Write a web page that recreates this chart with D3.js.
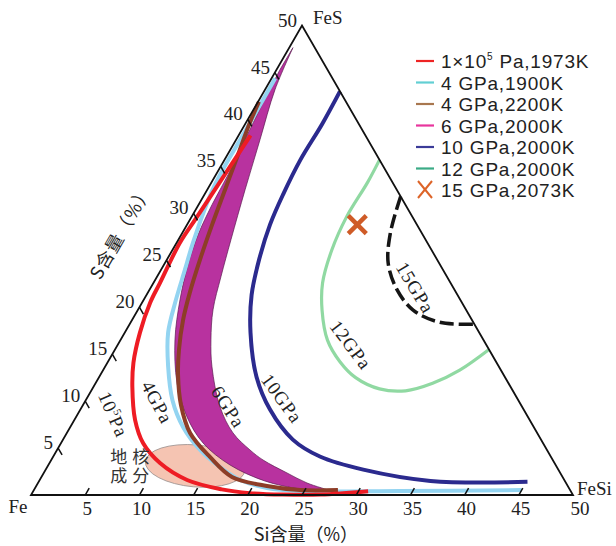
<!DOCTYPE html>
<html>
<head>
<meta charset="utf-8">
<script src="https://cdn.jsdelivr.net/npm/d3@7"></script>
<style>
body { margin: 0; background: #fff; }
</style>
</head>
<body>
<svg id="chart" width="616" height="546"></svg>
<script>
// values: Si content (%) and S content (%)
const siTicks = [5, 10, 15, 20, 25, 30, 35, 40, 45, 50];
const sTicks = [5, 10, 15, 20, 25, 30, 35, 40, 45, 50];

// 1e5 Pa, 1973K
const redSi = [1.1, 0.5, 0.3, 0.6, 0.75, 1.4, 2.4, 3.6, 5.6, 7.6, 10.2, 13.6, 17.3, 20.1, 23.2, 26.7, 30.9];
const redS  = [38.3, 29.6, 26.9, 22.6, 20.5, 17.3, 14.1, 11.5, 8.0, 5.5, 3.4, 1.6, 0.6, 0.2, 0.05, 0.05, 0.4];
// 4 GPa, 1900K
const blueSi = [0.33, 0.38, 0.46, 1.5, 2.2, 3.05, 4.0, 5.8, 8.0, 10.4, 13.2, 15.9, 18.5, 21.4, 24.6, 33.8, 45.0];
const blueS  = [44.4, 38.9, 32.8, 26.9, 24.0, 20.5, 17.3, 13.7, 10.1, 7.25, 4.8, 3.0, 1.6, 0.75, 0.43, 0.43, 0.53];
// 4 GPa, 2200K
const brownSi = [0.08, 0.39, 0.97, 1.64, 2.31, 3.06, 3.85, 4.7, 5.92, 7.17, 9.04, 11.37, 14.48, 17.58, 21.29, 24.55, 28.05];
const brownS  = [41.9, 39.45, 36.25, 32.52, 28.78, 25.05, 21.64, 18.66, 15.46, 12.79, 9.59, 6.61, 4.05, 1.92, 0.96, 0.53, 0.53];
// 6 GPa, 2000K band: outer (right) edge top->bottom, inner (left) edge bottom->top
const band6RightSi = [0.34, 0.92, 2.2, 3.49, 4.85, 5.9, 6.93, 8.34, 9.87, 12.75, 15.33, 17.8, 19.54, 22.44, 24.82, 27.37];
const band6RightS  = [47.65, 43.18, 37.85, 32.52, 27.19, 23.24, 19.72, 16.52, 13.65, 9.38, 6.61, 4.8, 3.73, 2.35, 1.28, 0.43];
const band6LeftSi = [26.39, 24.5, 20.84, 16.76, 13.1, 10.23, 7.5, 5.02, 3.35, 2.22, 1.55, 1.24, 1.12, 0.82, 0.52, 0.31];
const band6LeftS  = [0.53, 0.64, 1.49, 3.2, 5.54, 8.32, 11.94, 16.52, 20.79, 24.52, 27.72, 30.92, 34.12, 37.85, 41.58, 45.31];
// 10 GPa, 2000K
const navySi = [7.0, 7.1, 7.0, 7.25, 7.65, 8.5, 9.7, 11.6, 14.5, 17.5, 21.2, 24.6, 29.3, 36.1, 45.1];
const navyS  = [43.0, 39.5, 35.7, 32.0, 28.8, 25.1, 21.3, 17.3, 12.6, 9.1, 5.9, 4.1, 2.7, 1.5, 1.4];
// 12 GPa, 2000K
const greenSi = [14.3, 14.4, 14.3, 14.7, 15.6, 17.0, 19.1, 21.4, 23.7, 26.5, 29.0, 31.1, 32.9, 34.5];
const greenS  = [35.7, 33.3, 29.6, 26.1, 22.6, 19.7, 16.5, 14.2, 12.5, 11.3, 11.1, 11.9, 13.3, 15.5];
// 15 GPa boundary
const dashSi = [18.2, 19.2, 20.6, 22.8, 25.4, 28.5, 31.7];
const dashS  = [31.8, 27.9, 24.7, 21.9, 19.7, 18.4, 18.2];
// 15 GPa, 2073K point
const crossSi = [15.7];
const crossS = [28.8];
// core composition field (centre)
const coreSi = [13.6];
const coreS = [3.1];

const legendLabels = ["1×10|5| Pa,1973K", "4 GPa,1900K", "4 GPa,2200K", "6 GPa,2000K", "10 GPa,2000K", "12 GPa,2000K", "15 GPa,2073K"];
const legendColors = ["#ee2424", "#62cfd3", "#a8774f", "#e8359d", "#3b3b98", "#3bab86", "#dd6428"];

const curveLabels = [
  { text: "15GPa", si: 24.4, s: 22.1, angle: 59 },
  { text: "12GPa", si: 21.5, s: 16.0, angle: 53 },
  { text: "10GPa", si: 18.0, s: 10.3, angle: 54 },
  { text: "6GPa", si: 13.5, s: 9.4, angle: 57 },
  { text: "4GPa", si: 6.7, s: 9.9, angle: 62 },
  { text: "10|5|Pa", si: 3.3, s: 8.6, angle: 66 }
];

// ternary geometry
const side = 542, ox = 31, oy = 495;
const cos60 = 0.5, sin60 = Math.sqrt(3) / 2;
const siScale = d3.scaleLinear().domain([0, 50]).range([0, side]);
const sScale = d3.scaleLinear().domain([0, 50]).range([0, side]);

function proj(si, s) {
	return [ox + siScale(si) + sScale(s) * cos60, oy - sScale(s) * sin60];
}
function zip(a, b) {
	return a.map((d, i) => [d, b[i]]);
}

const svg = d3.select("#chart");
const serif = "'Liberation Serif', 'Times New Roman', serif";
const sans = "'Liberation Sans', Arial, sans-serif";
const cjk = "'Noto Sans CJK SC', sans-serif";

const line = d3.line()
	.x(d => proj(d[0], d[1])[0])
	.y(d => proj(d[0], d[1])[1])
	.curve(d3.curveCatmullRom.alpha(0.5));

// core composition ellipse
const cc = proj(coreSi[0], coreS[0]);
svg.append("ellipse")
	.attr("cx", cc[0]).attr("cy", cc[1])
	.attr("rx", 50).attr("ry", 21)
	.attr("transform", "rotate(5," + cc[0] + "," + cc[1] + ")")
	.style("fill", "#f5c4b2")
	.style("stroke", "#9a8f8c")
	.style("stroke-width", 0.8);

// 6 GPa band
const band = zip(band6RightSi, band6RightS).concat(zip(band6LeftSi, band6LeftS));
svg.append("path")
	.attr("d", line(band) + "Z")
	.style("fill", "#b8329f")
	.style("stroke", "#5a1a50")
	.style("stroke-width", 0.7);

function drawCurve(si, s, color, width, dash) {
	const p = svg.append("path")
		.attr("d", line(zip(si, s)))
		.style("fill", "none")
		.style("stroke", color)
		.style("stroke-width", width);
	if (dash) p.style("stroke-dasharray", dash);
	return p;
}

drawCurve(blueSi, blueS, "#93d4f1", 4);
drawCurve(brownSi, brownS, "#8d3d27", 4);
drawCurve(redSi, redS, "#ee1c24", 4);
drawCurve(navySi, navyS, "#2b2a8e", 4);
drawCurve(greenSi, greenS, "#90d9a2", 3.2);
drawCurve(dashSi, dashS, "#151515", 3.5, "14,5");

// triangle frame
const corners = [proj(0, 0), proj(50, 0), proj(0, 50)];
svg.append("path")
	.attr("d", "M" + corners.map(c => c.join(",")).join("L") + "Z")
	.style("fill", "none")
	.style("stroke", "#111")
	.style("stroke-width", 1.8)
	.style("stroke-linejoin", "miter");

// bottom axis (Si)
siTicks.forEach(t => {
	const p = proj(t, 0);
	if (t < 50) {
		svg.append("line")
			.attr("x1", p[0]).attr("y1", p[1])
			.attr("x2", p[0] + 8 * cos60).attr("y2", p[1] - 8 * sin60)
			.style("stroke", "#111").style("stroke-width", 1.5);
	}
	svg.append("text").text(t)
		.attr("x", p[0] + 2 + (t === 50 ? 5 : 0))
		.attr("y", 515)
		.attr("font-family", serif)
		.attr("font-size", 19)
		.style("text-anchor", "middle")
		.style("fill", "#222");
});

// left axis (S)
sTicks.forEach(t => {
	const p = proj(0, t);
	if (t < 50) {
		svg.append("line")
			.attr("x1", p[0]).attr("y1", p[1])
			.attr("x2", p[0] + 8 * cos60).attr("y2", p[1] + 8 * sin60)
			.style("stroke", "#111").style("stroke-width", 1.5);
	}
	svg.append("text").text(t)
		.attr("x", p[0] - 5)
		.attr("y", p[1] + 1)
		.attr("font-family", serif)
		.attr("font-size", 19)
		.style("text-anchor", "end")
		.style("fill", "#222");
});

// corner names
svg.append("text").text("Fe").attr("x", 18).attr("y", 513)
	.attr("font-family", serif).attr("font-size", 19).style("text-anchor", "middle").style("fill", "#222");
svg.append("text").text("FeSi").attr("x", 577).attr("y", 495)
	.attr("font-family", serif).attr("font-size", 19).style("fill", "#222");
svg.append("text").text("FeS").attr("x", 313).attr("y", 24)
	.attr("font-family", serif).attr("font-size", 19).style("fill", "#222");

// axis titles
svg.append("text").text("Si含量（%）")
	.attr("x", 306).attr("y", 541)
	.attr("font-family", cjk).attr("font-size", 18)
	.style("text-anchor", "middle").style("fill", "#222");
svg.append("text").text("S含量（%）")
	.attr("transform", "translate(121,232) rotate(-60)")
	.attr("dy", "0.35em")
	.attr("font-family", cjk).attr("font-size", 18)
	.attr("letter-spacing", 1)
	.style("text-anchor", "middle").style("fill", "#222");

// 15 GPa point
const xp = proj(crossSi[0], crossS[0]);
[[-1, -1], [1, -1]].forEach(d => {
	svg.append("line")
		.attr("x1", xp[0] + d[0] * 9).attr("y1", xp[1] + d[1] * 9)
		.attr("x2", xp[0] - d[0] * 9).attr("y2", xp[1] - d[1] * 9)
		.style("stroke", "#cf5b27").style("stroke-width", 4.5);
});

// labels on the curves
function addParts(textSel, str, big, small) {
	const parts = str.split("|");
	parts.forEach((part, i) => {
		if (i === 1) {
			textSel.append("tspan").text(part).attr("font-size", small).attr("dy", -big * 0.4);
		} else if (i === 2) {
			textSel.append("tspan").text(part).attr("font-size", big).attr("dy", big * 0.4);
		} else {
			textSel.append("tspan").text(part);
		}
	});
}

curveLabels.forEach(l => {
	const p = proj(l.si, l.s);
	const t = svg.append("text")
		.attr("transform", "translate(" + p[0] + "," + p[1] + ") rotate(" + l.angle + ")")
		.attr("dy", "0.35em")
		.attr("font-family", serif)
		.attr("font-size", 19)
		.attr("letter-spacing", 0.8)
		.style("text-anchor", "middle")
		.style("fill", "#222");
	addParts(t, l.text, 19, 11);
});

// core composition text, two rows in one text element
const coreLabel = proj(7.6, 3.1);
const coreText = svg.append("text")
	.attr("font-family", cjk)
	.attr("font-size", 17)
	.attr("letter-spacing", 5)
	.style("text-anchor", "middle")
	.style("fill", "#333");
["地核", "成分"].forEach((row, r) => {
	coreText.append("tspan").text(row)
		.attr("x", coreLabel[0] + 2)
		.attr("y", coreLabel[1] - 3 + r * 19);
});

// legend
const legend = svg.append("g").attr("id", "legend");
legendLabels.forEach((lab, i) => {
	const y = 61 + i * 21.5;
	if (i < 6) {
		legend.append("line")
			.attr("x1", 416).attr("x2", 434).attr("y1", y).attr("y2", y)
			.style("stroke", legendColors[i]).style("stroke-width", 2.2);
	} else {
		legend.append("line").attr("x1", 418).attr("y1", y - 9).attr("x2", 432).attr("y2", y + 8)
			.style("stroke", legendColors[i]).style("stroke-width", 2);
		legend.append("line").attr("x1", 432).attr("y1", y - 9).attr("x2", 418).attr("y2", y + 8)
			.style("stroke", legendColors[i]).style("stroke-width", 2);
	}
	const t = legend.append("text")
		.attr("x", 441).attr("y", y + 7)
		.attr("font-family", sans)
		.attr("font-size", 19)
		.attr("letter-spacing", 0.8)
		.style("fill", "#222");
	addParts(t, lab, 19, 10);
});
</script>
</body>
</html>
